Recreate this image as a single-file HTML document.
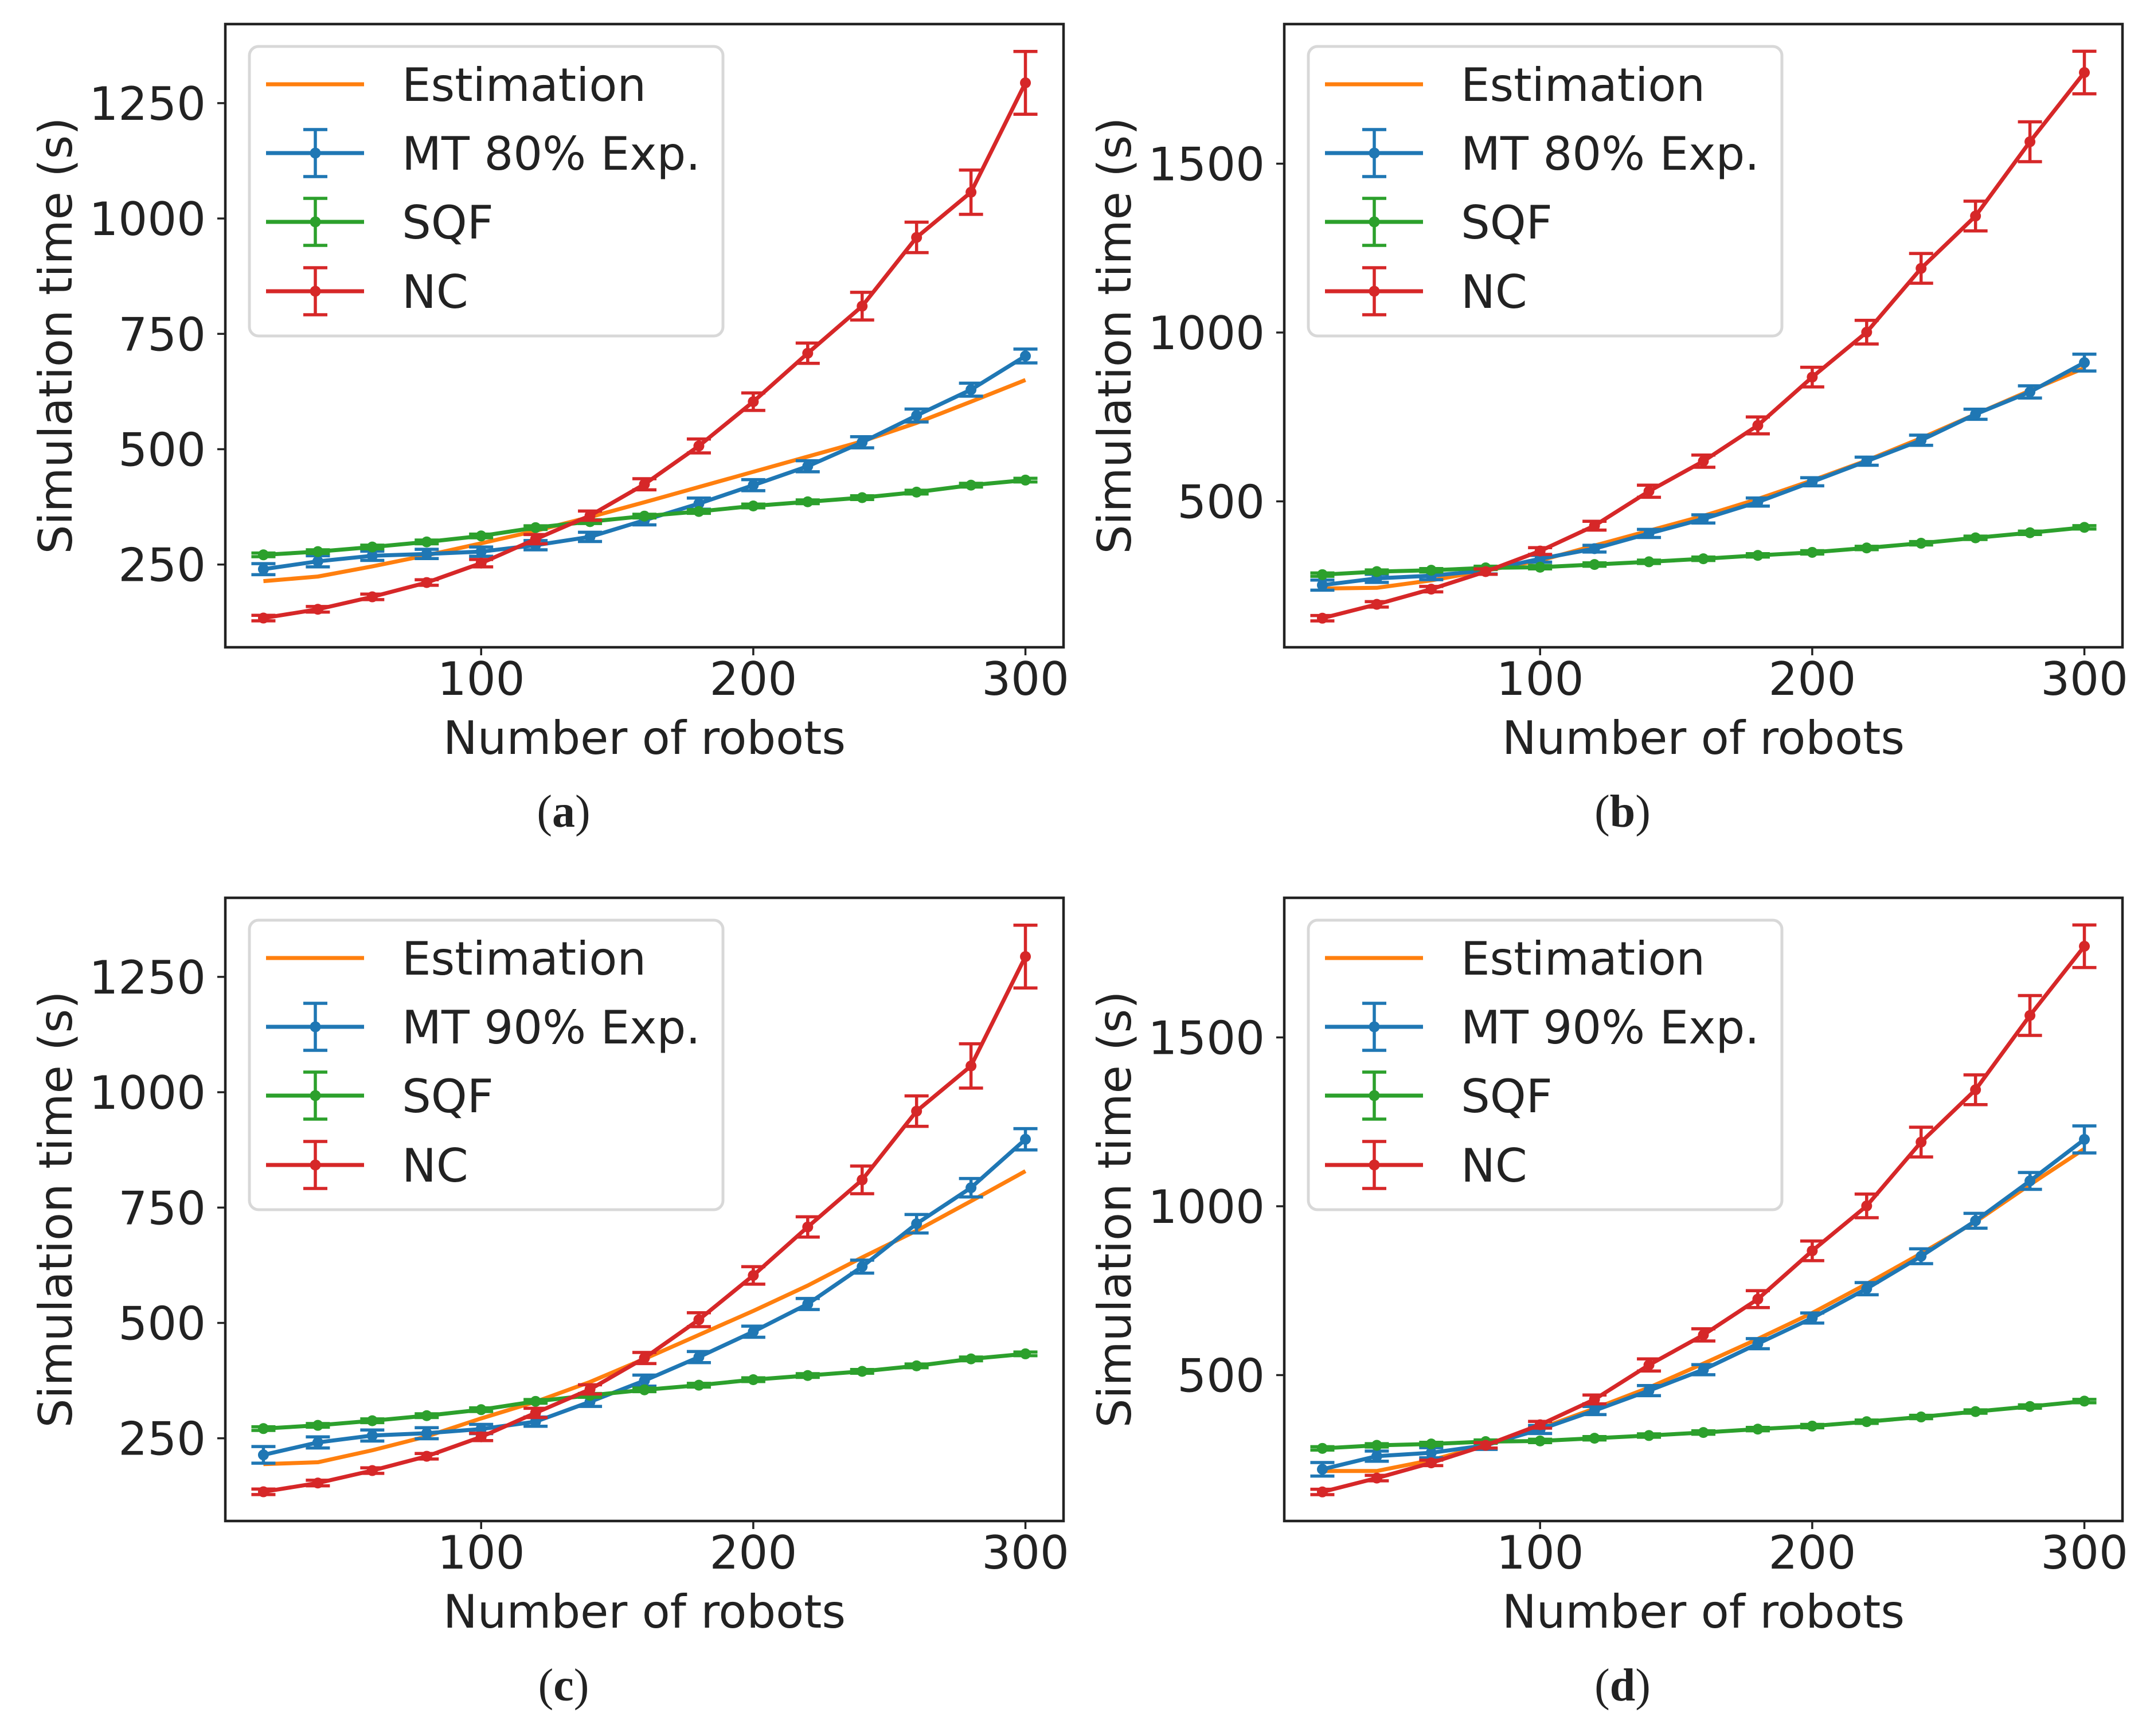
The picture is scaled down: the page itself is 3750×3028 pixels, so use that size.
<!DOCTYPE html>
<html><head><meta charset="utf-8"><style>
html,body{margin:0;padding:0;background:#fff;}
svg{display:block;}
text{font-family:"DejaVu Sans","Liberation Sans",sans-serif;fill:#222;}
</style></head>
<body>
<svg id="fig" width="3750" height="3028" viewBox="0 0 3750 3028" xmlns="http://www.w3.org/2000/svg"></svg>
<script>
const xs = [20,40,60,80,100,120,140,160,180,200,220,240,260,280,300];
const xTicks = [100,200,300];
// panel a
const estA = [214,224,246,270,296,323,353,385,418,451,484,517,557,603,650];
const mtA = [240,257,269,273,278,292,310,346,382,422,463,515,573,629,702];
const mtErrA = [12,12,10,10,10,10,10,10,12,12,12,12,14,14,15];
const sqfA = [271,278,288,299,312,330,343,355,365,377,386,395,407,422,433];
const sqfErrA = [4,4,4,4,4,4,4,4,4,4,4,4,4,4,4];
const ncA = [134,153,180,211,253,305,356,424,507,603,708,810,959,1057,1294];
const ncErrA = [6,6,6,6,8,10,10,12,15,19,22,30,33,48,68];
// panel b
const estB = [242,244,266,295,325,369,413,457,507,562,621,687,758,828,895];
const mtB = [252,272,280,295,330,360,405,448,498,558,619,681,758,824,911];
const mtErrB = [15,12,12,10,10,10,12,12,12,12,12,15,15,18,25];
const sqfB = [283,292,296,303,305,313,321,330,340,349,362,376,392,407,423];
const sqfErrB = [5,5,5,5,5,5,5,5,5,5,5,5,5,5,5];
const ncB = [154,195,240,292,353,428,530,619,725,868,1001,1190,1345,1565,1770];
const ncErrB = [8,8,8,8,10,13,18,18,25,29,35,44,44,59,63];
// panel c
const estC = [194,198,224,254,293,329,372,422,474,526,581,642,700,764,829];
const mtC = [214,241,256,261,270,286,329,375,426,481,541,622,715,793,898];
const mtErrC = [18,12,12,12,10,10,10,12,12,12,12,14,20,20,23];
// panel d
const estD = [216,216,248,292,342,401,463,534,607,684,770,860,954,1064,1170];
const mtD = [221,260,270,292,339,395,454,516,593,669,756,852,957,1075,1198];
const mtErrD = [20,15,15,12,12,12,15,15,15,15,18,22,22,25,40];
const yTicksA = [250,500,750,1000,1250];
const yTicksB = [500,1000,1500];
const legendA = ["Estimation","MT 80% Exp.","SQF","NC"];
const legendC = ["Estimation","MT 90% Exp.","SQF","NC"];

const NS = "http://www.w3.org/2000/svg";
const svg = document.getElementById('fig');
const C = {est:"#ff7f0e", mt:"#1f77b4", sqf:"#2ca02c", nc:"#d62728"};
function el(tag, attrs, parent){
  const e = document.createElementNS(NS, tag);
  for (const k in attrs) e.setAttribute(k, attrs[k]);
  (parent||svg).appendChild(e);
  return e;
}

function panel(cfg){
  const g = el('g', {});
  
  
  const L=cfg.left, T=cfg.top, W=1462, H=1087, B=T+H;
  const xmin=6, xmax=314;
  const X = v => L + (v - xmin) / (xmax - xmin) * W;
  const Y = v => cfg.y0 - (v - cfg.v0) * cfg.k;

  const est = el('polyline', {points: xs.map((x,i)=>X(x)+','+Y(cfg.est[i])).join(' '), fill:'none', stroke:C.est, 'stroke-width':7, 'stroke-linejoin':'round'}, g);
  
  
  const series = [['mt', cfg.mt, cfg.mtErr],['sqf', cfg.sqf, cfg.sqfErr],['nc', cfg.nc, cfg.ncErr]];
  for (const [key, vals, errs] of series){
    const sg = el('g', {}, g);
    
    
    el('polyline', {points: xs.map((x,i)=>X(x)+','+Y(vals[i])).join(' '), fill:'none', stroke:C[key], 'stroke-width':7, 'stroke-linejoin':'round'}, sg);
    xs.forEach((x,i)=>{
      const px=X(x), lo=Y(vals[i]-errs[i]), hi=Y(vals[i]+errs[i]);
      el('line',{x1:px,x2:px,y1:lo,y2:hi,stroke:C[key],'stroke-width':5.5},sg);
      el('line',{x1:px-21,x2:px+21,y1:lo,y2:lo,stroke:C[key],'stroke-width':5.5},sg);
      el('line',{x1:px-21,x2:px+21,y1:hi,y2:hi,stroke:C[key],'stroke-width':5.5},sg);
      const m = el('circle',{cx:px,cy:Y(vals[i]),r:9.5,fill:C[key]},sg);
      
      
    });
  }
  const frame = el('rect',{x:L,y:T,width:W,height:H,fill:'none',stroke:'#222','stroke-width':4.5},g);
  
  
  xTicks.forEach(t=>{
    el('line',{x1:X(t),x2:X(t),y1:B,y2:B+14,stroke:'#222','stroke-width':3.5},g);
    const tx = el('text',{x:X(t),y:B+83,'font-size':80,'text-anchor':'middle'},g);
    tx.textContent = t;
    
    
  });
  cfg.yTicks.forEach(t=>{
    el('line',{x1:L-14,x2:L,y1:Y(t),y2:Y(t),stroke:'#222','stroke-width':3.5},g);
    const ty = el('text',{x:L-34,y:Y(t)+29,'font-size':80,'text-anchor':'end'},g);
    ty.textContent = t;
    
    
  });
  const xl = el('text',{x:L+W/2,y:B+186,'font-size':80,'text-anchor':'middle'},g);
  xl.textContent = 'Number of robots';
  
  
  const yl = el('text',{x:0,y:0,'font-size':80,'text-anchor':'middle',transform:`translate(${L-268},${T+H/2}) rotate(-90)`},g);
  yl.textContent = 'Simulation time (s)';
  
  
  const lg = el('g',{},g);
  
  
  el('rect',{x:L+42,y:T+39,width:826,height:505,rx:16,fill:'#fff','fill-opacity':0.85,stroke:'#d8d8d8','stroke-width':5},lg);
  const keys=['est','mt','sqf','nc'];
  const rows=[105,225,345,466];
  keys.forEach((k,i)=>{
    const ry=T+rows[i];
    const e = el('g',{},lg);
    
    
    el('line',{x1:L+71,x2:L+242,y1:ry,y2:ry,stroke:C[k],'stroke-width':7},e);
    if(k!=='est'){
      const mx=L+157;
      el('line',{x1:mx,x2:mx,y1:ry-41,y2:ry+41,stroke:C[k],'stroke-width':5.5},e);
      el('line',{x1:mx-21,x2:mx+21,y1:ry-41,y2:ry-41,stroke:C[k],'stroke-width':5.5},e);
      el('line',{x1:mx-21,x2:mx+21,y1:ry+41,y2:ry+41,stroke:C[k],'stroke-width':5.5},e);
      el('circle',{cx:mx,cy:ry,r:9.5,fill:C[k]},e);
    }
    const lt = el('text',{x:L+308,y:ry+29,'font-size':80},e);
    lt.textContent = cfg.legend[i];
  });
  const sl = el('text',{x:L+590,y:B+313,'font-size':80,'text-anchor':'middle',style:'font-family:"Liberation Serif",serif'},g);
  
  
  el('tspan',{},sl).textContent='(';
  el('tspan',{'font-weight':'bold'},sl).textContent=cfg.id;
  el('tspan',{},sl).textContent=')';
}

panel({id:'a',left:393,top:42,y0:984.7,v0:250,k:0.8048,yTicks:yTicksA,legend:legendA,est:estA,mt:mtA,mtErr:mtErrA,sqf:sqfA,sqfErr:sqfErrA,nc:ncA,ncErr:ncErrA});
panel({id:'b',left:2240,top:42,y0:874.5,v0:500,k:0.589,yTicks:yTicksB,legend:legendA,est:estB,mt:mtB,mtErr:mtErrB,sqf:sqfB,sqfErr:sqfErrB,nc:ncB,ncErr:ncErrB});
panel({id:'c',left:393,top:1566,y0:2508.7,v0:250,k:0.8048,yTicks:yTicksA,legend:legendC,est:estC,mt:mtC,mtErr:mtErrC,sqf:sqfA,sqfErr:sqfErrA,nc:ncA,ncErr:ncErrA});
panel({id:'d',left:2240,top:1566,y0:2398.5,v0:500,k:0.589,yTicks:yTicksB,legend:legendC,est:estD,mt:mtD,mtErr:mtErrD,sqf:sqfB,sqfErr:sqfErrB,nc:ncB,ncErr:ncErrB});
</script>
</body></html>
